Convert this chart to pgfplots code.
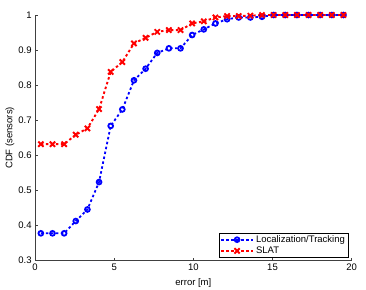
\documentclass[border=0pt]{standalone}
\usepackage{fontspec}
\setmainfont{Liberation Sans}
\usepackage{pgfplots}
\pgfplotsset{compat=1.18}
\begin{document}
\fontsize{9.5bp}{11bp}\selectfont
\begin{tikzpicture}
\begin{axis}[
  at={(0,0)}, anchor=south west,
  scale only axis,
  width=316.7bp, height=245.7bp,
  xmin=0, xmax=20, ymin=0.3, ymax=1,
  xtick={0,5,10,15,20},
  ytick={0.3,0.4,0.5,0.6,0.7,0.8,0.9,1},
  axis lines*=left,
  axis line style={black!75, line width=0.6bp},
  tick style={black!75, line width=0.6bp},
  tick align=inside,
  major tick length=3bp,
  /pgf/number format/assume math mode=true,
  ticklabel style={font=\fontsize{9.5bp}{11bp}\selectfont},
  label style={font=\fontsize{9.5bp}{11bp}\selectfont},
  xlabel={error [m]},
  ylabel={CDF (sensors)},
  ylabel style={xshift=0bp, yshift=-2.5bp},
  xlabel style={yshift=-1bp},
  clip=false,
  legend cell align=left,
  legend style={at={(1,0)}, anchor=south east, xshift=-3.5bp, yshift=3bp,
    draw=black, line width=0.6bp, inner xsep=1bp, inner ysep=0.5bp,
    font=\fontsize{9.5bp}{11bp}\selectfont, row sep=-1bp},
  legend image code/.code={%
    \draw[mark repeat=2,mark phase=2] plot coordinates {(0bp,0bp) (16bp,0bp) (32bp,0bp)};},
]
\addplot[blue, line width=1.8bp, dash pattern=on 2.5bp off 2.5bp,
  mark=o, mark size=2.4bp, mark options={solid}] coordinates {
(0.37,0.378)(1.105,0.378)(1.84,0.378)(2.575,0.413)(3.31,0.446)(4.045,0.524)
(4.78,0.684)(5.515,0.731)(6.25,0.814)(6.985,0.847)(7.72,0.892)(8.455,0.905)
(9.19,0.905)(9.925,0.943)(10.66,0.959)(11.395,0.976)(12.13,0.988)(12.865,0.993)
(13.6,0.993)(14.335,0.995)(15.07,1)(15.805,1)(16.54,1)(17.275,1)(18.01,1)(18.745,1)(19.48,1)};
\addlegendentry{Localization/Tracking}
\addplot[red, line width=1.9bp, dash pattern=on 2.5bp off 2.5bp,
  mark=x, mark size=3.7bp, mark options={solid}] coordinates {
(0.37,0.632)(1.105,0.632)(1.84,0.632)(2.575,0.659)(3.31,0.677)(4.045,0.732)
(4.78,0.838)(5.515,0.866)(6.25,0.919)(6.985,0.935)(7.72,0.952)(8.455,0.957)
(9.19,0.957)(9.925,0.976)(10.66,0.982)(11.395,0.993)(12.13,0.997)(12.865,0.997)
(13.6,0.998)(14.335,1)(15.07,1)(15.805,1)(16.54,1)(17.275,1)(18.01,1)(18.745,1)(19.48,1)};
\addlegendentry{SLAT}
\end{axis}
\pgfresetboundingbox
\path (-35bp,-29.3bp) rectangle (331bp,260.7bp);
\end{tikzpicture}
\end{document}
